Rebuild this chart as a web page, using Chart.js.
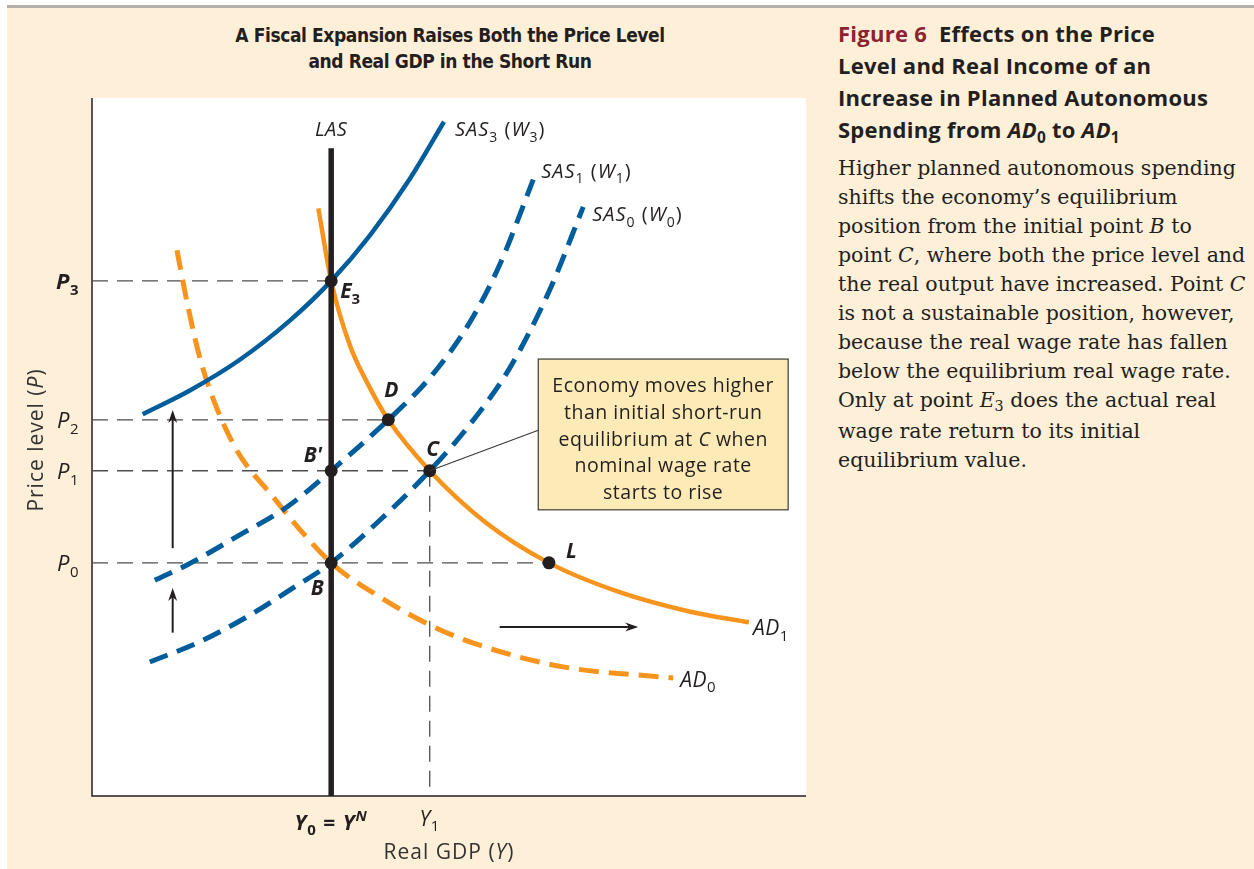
<!DOCTYPE html>
<html>
<head>
<meta charset="utf-8">
<script src="https://cdn.jsdelivr.net/npm/chart.js@4.4.0/dist/chart.umd.min.js"></script>
<style>
html, body { margin: 0; padding: 0; background: #fff; }
#page { position: relative; width: 1254px; height: 869px; background: #fff; overflow: hidden; }
#panel { position: absolute; left: 7px; top: 5px; right: 0; bottom: 0; background: #fdefd8; border-top: 3px solid #b3b0ad; }
#chartBox { position: absolute; left: 0; top: 0; width: 830px; height: 869px; }
#title { position: absolute; left: 150px; top: 22px; width: 600px; text-align: center;
  font: bold 19px 'Liberation Sans Narrow', 'DejaVu Sans Condensed', sans-serif; letter-spacing: -0.4px;
  line-height: 26px; color: #231f20; }
#side { position: absolute; left: 838px; top: 17px; width: 416px; color: #231f20; }
.hd { font: bold 22px 'Open Sans', sans-serif; letter-spacing: 0.25px; line-height: 32px; white-space: nowrap; }
.fig { color: #8c2332; }
.bd { font: 20.5px 'DejaVu Serif', serif; line-height: 29px; white-space: nowrap; }
.bdFirst { margin-top: 5px; }
sub { font-size: 0.7em; vertical-align: baseline; position: relative; top: 0.3em; }
</style>
</head>
<body>
<div id="page">
  <div id="panel"></div>
  <div id="title">A Fiscal Expansion Raises Both the Price Level<br>and Real GDP in the Short Run</div>
  <div id="chartBox"><canvas id="myChart" width="830" height="869"></canvas></div>
  <div id="side">
    <div class="hd"><span class="fig">Figure 6</span>&nbsp; Effects on the Price</div>
    <div class="hd">Level and Real Income of an</div>
    <div class="hd">Increase in Planned Autonomous</div>
    <div class="hd">Spending from <i>AD</i><sub>0</sub> to <i>AD</i><sub>1</sub></div>
    <div class="bd bdFirst">Higher planned autonomous spending</div>
    <div class="bd">shifts the economy’s equilibrium</div>
    <div class="bd">position from the initial point <i>B</i> to</div>
    <div class="bd">point <i>C</i>, where both the price level and</div>
    <div class="bd">the real output have increased. Point <i>C</i></div>
    <div class="bd">is not a sustainable position, however,</div>
    <div class="bd">because the real wage rate has fallen</div>
    <div class="bd">below the equilibrium real wage rate.</div>
    <div class="bd">Only at point <i>E</i><sub>3</sub> does the actual real</div>
    <div class="bd">wage rate return to its initial</div>
    <div class="bd">equilibrium value.</div>
  </div>
</div>
<script>
// price levels and output levels (axis units 0..10)
const priceNames = ['P0', 'P1', 'P2', 'P3'];
const priceValues = [3.34, 4.66, 5.39, 7.38];
const outputNames = ['Y0', 'Y1'];
const outputValues = [3.35, 4.73];

// curves
const sas3X = [0.71, 1.37, 2.07, 2.77, 3.35, 3.89, 4.45, 4.93];
const sas3Y = [5.47, 5.81, 6.25, 6.81, 7.38, 8.03, 8.84, 9.66];
const sas1X = [0.88, 1.33, 2.07, 2.73, 3.35, 4.15, 4.73, 5.27, 5.71, 6.18];
const sas1Y = [3.09, 3.31, 3.74, 4.14, 4.66, 5.39, 5.99, 6.75, 7.61, 8.83];
const sas0X = [0.81, 1.51, 2.21, 2.80, 3.35, 4.03, 4.73, 5.29, 5.85, 6.41, 6.88];
const sas0Y = [1.92, 2.21, 2.59, 2.97, 3.34, 3.95, 4.66, 5.32, 6.13, 7.25, 8.44];
const ad1X = [3.17, 3.35, 3.61, 3.87, 4.15, 4.73, 5.50, 6.40, 7.39, 8.38, 9.20];
const ad1Y = [8.42, 7.38, 6.46, 5.89, 5.39, 4.66, 3.93, 3.34, 2.92, 2.64, 2.49];
const ad0X = [1.19, 1.34, 1.54, 1.97, 2.54, 3.35, 3.94, 4.73, 5.43, 6.60, 8.14];
const ad0Y = [7.82, 7.03, 6.17, 5.06, 4.28, 3.34, 2.91, 2.45, 2.16, 1.85, 1.69];
const lasX = [3.35, 3.35];
const lasY = [0, 9.28];

// equilibrium points
const pointNames = ['E3', 'D', "B'", 'C', 'B', 'L'];
const pointX = [3.35, 4.15, 3.35, 4.73, 3.35, 6.40];
const pointY = [7.38, 5.39, 4.66, 4.66, 3.34, 3.34];

// shift arrows
const arrowFromX = [1.13, 1.13, 5.71];
const arrowFromY = [3.55, 2.34, 2.42];
const arrowToX = [1.13, 1.13, 7.65];
const arrowToY = [5.53, 2.98, 2.42];

// callout box corners and connector end
const boxX = [6.25, 9.75];
const boxY = [6.26, 4.10];
const connectorEnd = [6.25, 5.24];

const BLUE = '#005d9c';
const ORANGE = '#f7941d';
const INK = '#231f20';
const FONT = "'Open Sans', Lato, sans-serif";

const zip = (xs, ys) => xs.map((x, i) => ({ x, y: ys[i] }));

const curve = (data, color, dash, width) => ({
    data,
    showLine: true,
    borderColor: color,
    borderWidth: width || 4.5,
    borderDash: dash || [],
    pointRadius: 0,
    cubicInterpolationMode: 'monotone',
    borderCapStyle: 'butt'
});

const guide = (data) => ({
    data,
    showLine: true,
    borderColor: '#4d4d4d',
    borderWidth: 1.3,
    borderDash: [16, 9],
    pointRadius: 0
});

// guide lines from axis to the points
const guides = [
    [{ x: 0, y: priceValues[3] }, { x: pointX[0], y: priceValues[3] }],
    [{ x: 0, y: priceValues[2] }, { x: pointX[1], y: priceValues[2] }],
    [{ x: 0, y: priceValues[1] }, { x: pointX[3], y: priceValues[1] }],
    [{ x: 0, y: priceValues[0] }, { x: pointX[5], y: priceValues[0] }],
    [{ x: outputValues[1], y: priceValues[1] }, { x: outputValues[1], y: 0 }]
];

// rich text: segments [text, flags] with b=bold i=italic s=sub p=sup, ls = letter spacing
const drawRich = (ctx, segs, x, yMid, align, size, ls) => {
    ls = ls || 0;
    const fontOf = (f) => {
        const small = f.includes('s') || f.includes('p');
        return (f.includes('i') ? 'italic ' : '') + (f.includes('b') ? 'bold ' : '') +
            (small ? Math.round(size * 0.7) : size) + 'px ' + FONT;
    };
    const segWidth = (t) => ls ? [...t].reduce((w, ch) => w + ctx.measureText(ch).width + ls, 0) : ctx.measureText(t).width;
    let total = 0;
    segs.forEach(([t, f]) => { ctx.font = fontOf(f); total += segWidth(t); });
    let cx = align === 'center' ? x - total / 2 : align === 'right' ? x - total : x;
    const base = yMid + size * 0.36;
    ctx.textAlign = 'left';
    ctx.textBaseline = 'alphabetic';
    segs.forEach(([t, f]) => {
        ctx.font = fontOf(f);
        let y = base;
        if (f.includes('s')) y += size * 0.28;
        if (f.includes('p')) y -= size * 0.42;
        if (ls) {
            [...t].forEach((ch) => { ctx.fillText(ch, cx, y); cx += ctx.measureText(ch).width + ls; });
        } else {
            ctx.fillText(t, cx, y);
            cx += ctx.measureText(t).width;
        }
    });
};

const drawArrow = (ctx, x1, y1, x2, y2) => {
    const a = Math.atan2(y2 - y1, x2 - x1);
    const L = 13, W = 4.5;
    ctx.beginPath();
    ctx.moveTo(x1, y1);
    ctx.lineTo(x2 - Math.cos(a) * 8, y2 - Math.sin(a) * 8);
    ctx.stroke();
    ctx.beginPath();
    ctx.moveTo(x2, y2);
    ctx.lineTo(x2 - L * Math.cos(a) - W * Math.sin(a), y2 - L * Math.sin(a) + W * Math.cos(a));
    ctx.lineTo(x2 - (L - 4) * Math.cos(a), y2 - (L - 4) * Math.sin(a));
    ctx.lineTo(x2 - L * Math.cos(a) + W * Math.sin(a), y2 - L * Math.sin(a) - W * Math.cos(a));
    ctx.closePath();
    ctx.fill();
};

const decor = {
    id: 'decor',
    beforeDatasetsDraw(chart) {
        const { ctx, chartArea: a } = chart;
        ctx.save();
        ctx.fillStyle = '#fff';
        ctx.fillRect(a.left, a.top, a.right - a.left, a.bottom - a.top);
        ctx.strokeStyle = INK;
        ctx.lineWidth = 1.5;
        ctx.beginPath();
        ctx.moveTo(a.left, a.top);
        ctx.lineTo(a.left, a.bottom);
        ctx.lineTo(a.right, a.bottom);
        ctx.stroke();
        ctx.restore();
    },
    afterDatasetsDraw(chart) {
        const { ctx, chartArea: a } = chart;
        const xs = chart.scales.x, ys = chart.scales.y;
        const px = (v) => xs.getPixelForValue(v);
        const py = (v) => ys.getPixelForValue(v);
        ctx.save();

        // arrows
        ctx.strokeStyle = INK;
        ctx.fillStyle = INK;
        ctx.lineWidth = 2;
        arrowFromX.forEach((v, i) => {
            drawArrow(ctx, px(v), py(arrowFromY[i]), px(arrowToX[i]), py(arrowToY[i]));
        });

        // callout
        const bx = px(boxX[0]), by = py(boxY[0]);
        const bw = px(boxX[1]) - bx, bh = py(boxY[1]) - by;
        ctx.lineWidth = 1.2;
        ctx.strokeStyle = '#3a3a3a';
        ctx.beginPath();
        ctx.moveTo(px(pointX[3]), py(pointY[3]));
        ctx.lineTo(px(connectorEnd[0]), py(connectorEnd[1]));
        ctx.stroke();
        ctx.fillStyle = '#fcebb6';
        ctx.fillRect(bx, by, bw, bh);
        ctx.strokeRect(bx, by, bw, bh);
        ctx.fillStyle = INK;
        const cxm = bx + bw / 2;
        const lines = [
            [['Economy moves higher', '']],
            [['than initial short-run', '']],
            [['equilibrium at ', ''], ['C', 'i'], [' when', '']],
            [['nominal wage rate', '']],
            [['starts to rise', '']]
        ];
        lines.forEach((segs, i) => drawRich(ctx, segs, cxm, by + 26 + i * 26.8, 'center', 19.5, 0.5));

        // curve labels
        const end = (xsArr, ysArr) => [px(xsArr[xsArr.length - 1]), py(ysArr[ysArr.length - 1])];
        let p = end(sas3X, sas3Y);
        drawRich(ctx, [['SAS', 'i'], ['3', 's'], [' (', ''], ['W', 'i'], ['3', 's'], [')', '']], p[0] + 11, p[1] + 7, 'left', 20, 1);
        p = end(sas1X, sas1Y);
        drawRich(ctx, [['SAS', 'i'], ['1', 's'], [' (', ''], ['W', 'i'], ['1', 's'], [')', '']], p[0] + 8, p[1] - 9, 'left', 20, 1);
        p = end(sas0X, sas0Y);
        drawRich(ctx, [['SAS', 'i'], ['0', 's'], [' (', ''], ['W', 'i'], ['0', 's'], [')', '']], p[0] + 9, p[1] + 7, 'left', 20, 1);
        p = end(ad1X, ad1Y);
        drawRich(ctx, [['AD', 'i'], ['1', 's']], p[0] + 4, p[1] + 5, 'left', 21, 0.5);
        p = end(ad0X, ad0Y);
        drawRich(ctx, [['AD', 'i'], ['0', 's']], p[0] + 7, p[1] + 1, 'left', 21, 0.5);
        drawRich(ctx, [['LAS', 'i']], px(lasX[1]), py(lasY[1]) - 19, 'center', 20, 0.5);

        // point labels
        const pl = [
            [[['E', 'bi'], ['3', 'bs']], 9, 10, 'left'],
            [[['D', 'bi']], 3, -30, 'center'],
            [[["B'", 'bi']], -9, -16, 'right'],
            [[['C', 'bi']], 3, -22, 'center'],
            [[['B', 'bi']], -14, 25, 'center'],
            [[['L', 'bi']], 17, -12, 'left']
        ];
        pl.forEach(([segs, dx, dy, al], i) => {
            drawRich(ctx, segs, px(pointX[i]) + dx, py(pointY[i]) + dy, al, 21);
        });

        // price tick labels
        priceNames.forEach((n, i) => {
            const bold = n === 'P3' ? 'b' : '';
            drawRich(ctx, [[n[0], 'i' + bold], [n.slice(1), 's' + bold]], a.left - 13, py(priceValues[i]), 'right', 22, 0.5);
        });
        // output tick labels
        drawRich(ctx, [['Y', 'bi'], ['0', 'bs'], [' = ', 'b'], ['Y', 'bi'], ['N', 'bip']], px(outputValues[0]), a.bottom + 26, 'center', 21, 1);
        drawRich(ctx, [['Y', 'i'], ['1', 's']], px(outputValues[1]), a.bottom + 22, 'center', 21, 0.5);

        // axis titles
        ctx.fillStyle = '#333';
        drawRich(ctx, [['Real GDP (', ''], ['Y', 'i'], [')', '']], (a.left + a.right) / 2, a.bottom + 55, 'center', 21, 1);
        ctx.save();
        ctx.translate(35, (a.top + a.bottom) / 2 - 7);
        ctx.rotate(-Math.PI / 2);
        drawRich(ctx, [['Price level (', ''], ['P', 'i'], [')', '']], 0, 0, 'center', 21, 1);
        ctx.restore();

        ctx.restore();
    }
};

const datasets = [
    { data: zip(pointX, pointY), pointRadius: 6.5, pointBackgroundColor: INK, pointBorderWidth: 0, showLine: false },
    { data: zip(lasX, lasY), showLine: true, borderColor: INK, borderWidth: 5.5, pointRadius: 0, tension: 0 },
    curve(zip(sas3X, sas3Y), BLUE),
    curve(zip(ad1X, ad1Y), ORANGE),
    curve(zip(sas1X, sas1Y), BLUE, [19, 10], 5),
    curve(zip(sas0X, sas0Y), BLUE, [19, 10], 5),
    curve(zip(ad0X, ad0Y), ORANGE, [20, 10], 5),
    ...guides.map(guide)
];

new Chart(document.getElementById('myChart'), {
    type: 'scatter',
    data: { datasets },
    options: {
        responsive: false,
        animation: false,
        devicePixelRatio: 1,
        layout: { padding: { left: 92, top: 98, right: 24, bottom: 73 } },
        plugins: { legend: { display: false }, tooltip: { enabled: false }, title: { display: false } },
        scales: {
            x: { type: 'linear', min: 0, max: 10, display: false },
            y: { type: 'linear', min: 0, max: 10, display: false }
        }
    },
    plugins: [decor]
});
</script>
</body>
</html>
